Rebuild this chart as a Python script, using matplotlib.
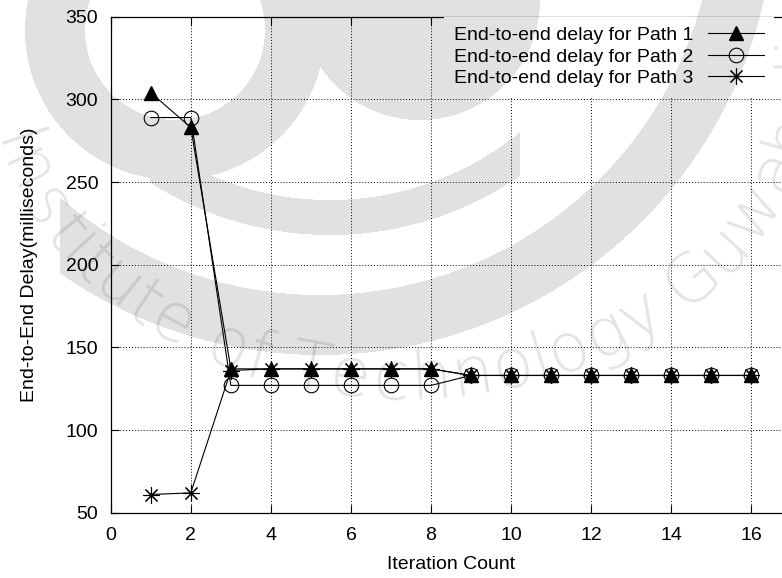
import numpy as np
import matplotlib.pyplot as plt

# iteration number vs. measured end-to-end delay (ms) on each path
iterations = list(range(1, 17))
path1_delay = [304, 283, 137, 137, 137, 137, 137, 137,
               133, 133, 133, 133, 133, 133, 133, 133]
path2_delay = [289, 289, 127, 127, 127, 127, 127, 127,
               133, 133, 133, 133, 133, 133, 133, 133]
path3_delay = [61, 62, 136, 137, 137, 137, 137, 137,
               133, 133, 133, 133, 133, 133, 133, 133]

labels = ["End-to-end delay for Path 1",
          "End-to-end delay for Path 2",
          "End-to-end delay for Path 3"]

x_ticks = list(range(0, 17, 2))
y_ticks = list(range(50, 351, 50))

plt.rcParams['font.family'] = ['Liberation Sans', 'DejaVu Sans']

W, H = 782, 578
fig = plt.figure(figsize=(W / 100, H / 100), dpi=100)
ax = fig.add_axes([0.1416, 0.113, 0.8704, 0.8581])

ax.plot(iterations, path1_delay, color='black', lw=0.8, marker='^',
        ms=10, mfc='black', mec='black', label=labels[0])
ax.plot(iterations, path2_delay, color='black', lw=0.8, marker='o',
        ms=10.5, mfc='none', mec='black', mew=0.8, label=labels[1])
ax.plot(iterations, path3_delay, color='black', lw=0.8, marker=(8, 2, 0),
        ms=12, mec='black', mew=0.8, label=labels[2])

ax.set_xlim(0, 17)
ax.set_ylim(50, 350)
ax.set_xticks(x_ticks)
ax.set_yticks(y_ticks)
ax.tick_params(direction='in', length=6, width=0.8, labelsize=14,
               top=True, right=True)
ax.tick_params(axis='y', pad=9)
ax.tick_params(axis='x', pad=10)
for s in ax.spines.values():
    s.set_linewidth(0.9)

ax.grid(True, color='black', linestyle=(0, (1, 2)), linewidth=0.7)
ax.set_axisbelow(True)

ax.set_xlabel("Iteration Count", fontsize=14, labelpad=9)
ax.set_ylabel("End-to-End Delay(milliseconds)", fontsize=14, labelpad=20)

leg = ax.legend(loc='upper right', bbox_to_anchor=(0.974, 1.0),
                markerfirst=False, frameon=True, fancybox=False,
                facecolor='white', edgecolor='none', framealpha=1,
                fontsize=14, handlelength=2.9, handletextpad=0.75,
                labelspacing=0.2, borderpad=0.5, borderaxespad=0)

# faint logo watermark laid over the whole sheet
wm = fig.add_axes([0, 0, 1, 1], zorder=10)
wm.set_xlim(0, W)
wm.set_ylim(H, 0)
wm.axis('off')
wm.patch.set_alpha(0)

yy, xx = np.mgrid[0:H, 0:W] + 0.5
r1 = np.hypot(xx - 175, yy - 30)
r2 = np.hypot(xx - 330, yy + 100)
r3 = np.hypot(xx - 320, yy + 100)
r4 = np.hypot(xx - 420, yy)
mask = ((r1 > 90) & (r1 < 150)) \
    | ((r2 > 300) & (r2 < 335) & (xx > 150) & (xx < 520)) \
    | ((r3 > 395) & (r3 < 455) & (xx > 60)) \
    | (r4 < 120)
shade = np.zeros((H, W, 4))
shade[..., 3] = 0.12 * mask
wm.imshow(shade, extent=(0, W, H, 0), aspect='auto', interpolation='nearest')

# lettering around the lower rim of the logo
motto = "Institute of Technology Guwahati"
cx, cy, a, b = 400, 60, 400, 320
phi = np.radians(np.linspace(230, -60, 4000))
px = cx + a * np.cos(phi)
py = cy + b * np.sin(phi)
arc = np.concatenate([[0], np.cumsum(np.hypot(np.diff(px), np.diff(py)))])
adv = {' ': 0.3, 'i': 0.26, 'l': 0.26, 't': 0.36, 'I': 0.3, 'f': 0.36,
       'T': 0.6, 'G': 0.72, 'w': 0.78, 'y': 0.55}
em = 68
widths = np.array([adv.get(c, 0.6) * em for c in motto])
centers = np.cumsum(widths) - widths / 2
t_pos = np.interp(np.radians(103), phi[::-1], arc[::-1])
centers = centers - centers[motto.index('T')] + t_pos
for ch, s in zip(motto, centers):
    f = np.interp(s, arc, phi)
    x0 = cx + a * np.cos(f)
    y0 = cy + b * np.sin(f)
    rot = np.degrees(np.arctan2(b * np.cos(f), a * np.sin(f)))
    wm.text(x0, y0, ch, fontsize=48, family='DejaVu Sans', weight=200,
            color='black', alpha=0.11, rotation=rot, ha='center',
            va='center', rotation_mode='anchor')

fig.savefig("out.png", dpi=100)
